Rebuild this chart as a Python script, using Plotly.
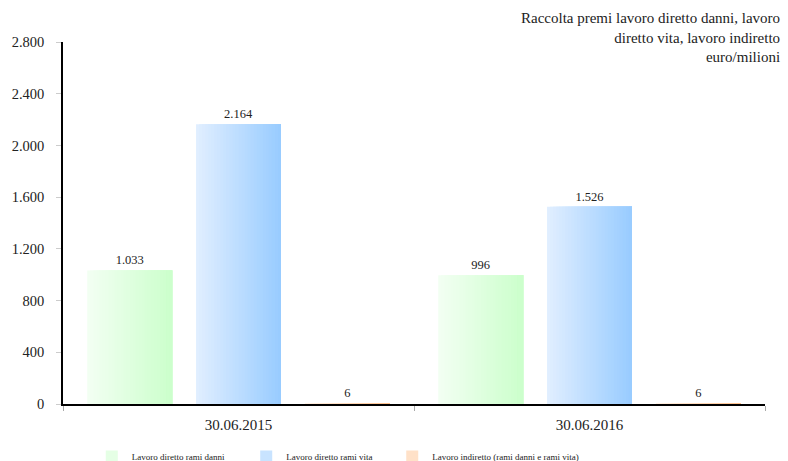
import plotly.graph_objects as go

# Data (euro/milioni)
categories = ["30.06.2015", "30.06.2016"]
series_names = [
    "Lavoro diretto rami danni",
    "Lavoro diretto rami vita",
    "Lavoro indiretto (rami danni e rami vita)",
]
danni = [1033, 996]
vita = [2164, 1526]
indiretto = [6, 6]
series_values = [danni, vita, indiretto]

# Horizontal gradient endpoints (left -> right) for each series
gradients = [
    ((242, 255, 242), (204, 255, 204)),
    ((224, 238, 255), (153, 204, 255)),
    ((255, 242, 230), (255, 192, 140)),
]

FONT = "Liberation Serif"

n_series = len(series_values)
bargap = 0.07
groupgap = 0.22
slot = (1 - bargap) / n_series
bar_w = slot * (1 - groupgap)
n_strips = 28
dw = bar_w / n_strips

# one legend box per series, laid out along the bottom
legend_ids = ["legend", "legend2", "legend3"]
legend_x = [0.041, 0.261, 0.469]

fig = go.Figure()

for s, (name, vals, (c0, c1)) in enumerate(zip(series_names, series_values, gradients)):
    slot_start = -(1 - bargap) / 2 + s * slot
    bar_start = slot_start + (slot - bar_w) / 2
    for i in range(n_strips):
        t = i / (n_strips - 1)
        rgb = tuple(int(round(a + (b - a) * t)) for a, b in zip(c0, c1))
        color = "rgb(%d,%d,%d)" % rgb
        # each strip runs to the bar's right edge; later strips cover earlier ones
        width = bar_w - i * dw
        fig.add_trace(go.Bar(
            x=categories,
            y=vals,
            offset=bar_start + i * dw,
            width=[width] * len(vals),
            marker=dict(color=color, line=dict(width=0)),
            name=name,
            legend=legend_ids[s],
            legendgroup=name,
            showlegend=(i == n_strips // 3),
            text=[f"{v:,}".replace(",", ".") for v in vals] if i == 0 else None,
            textposition="outside" if i == 0 else None,
            textfont=dict(family=FONT, size=12.5, color="#222"),
            cliponaxis=False,
            hoverinfo="skip" if i else "x+y+name",
        ))

legend_style = dict(
    orientation="h",
    xanchor="left",
    y=-0.105, yanchor="top",
    font=dict(family=FONT, size=9, color="#222"),
    itemwidth=30,
    bgcolor="rgba(0,0,0,0)",
)

fig.update_layout(
    width=788,
    height=461,
    barmode="overlay",
    separators=",.",
    paper_bgcolor="white",
    plot_bgcolor="white",
    margin=dict(l=63, r=23, t=42, b=57, autoexpand=False),
    font=dict(family=FONT, size=13, color="#222"),
    showlegend=True,
    legend=dict(x=legend_x[0], **legend_style),
    legend2=dict(x=legend_x[1], **legend_style),
    legend3=dict(x=legend_x[2], **legend_style),
    annotations=[dict(
        text="Raccolta premi lavoro diretto danni, lavoro<br>diretto vita, lavoro indiretto<br>euro/milioni",
        xref="paper", yref="paper",
        x=1.024, y=1.094, xanchor="right", yanchor="top",
        align="right", showarrow=False,
        font=dict(family=FONT, size=15, color="#222"),
    )],
)

fig.update_xaxes(
    type="category",
    showline=True, linecolor="black", linewidth=1.5,
    ticks="outside", tickson="boundaries", ticklen=5, tickcolor="#aaa",
    ticklabelstandoff=6,
    tickfont=dict(family=FONT, size=15, color="#222"),
    showgrid=False, zeroline=False,
    range=[-0.5, 1.5],
)
fig.update_yaxes(
    range=[0, 2800],
    tickvals=list(range(0, 2801, 400)),
    tickformat=",d",
    showline=True, linecolor="black", linewidth=1.5,
    ticks="outside", ticklen=5, tickcolor="#ccc",
    ticklabelstandoff=9,
    tickfont=dict(family=FONT, size=14.5, color="#222"),
    showgrid=False, zeroline=False,
)

fig.write_html("out.html")
